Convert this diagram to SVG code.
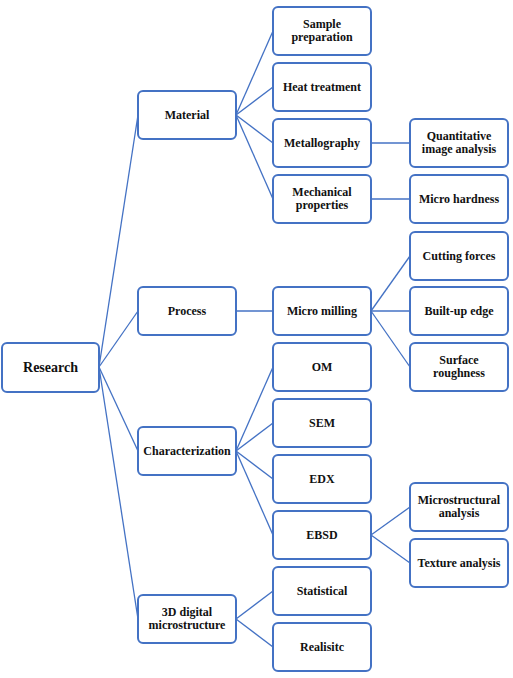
<svg xmlns="http://www.w3.org/2000/svg" width="513" height="678" viewBox="0 0 513 678">
<style>
rect{fill:#fff;stroke:#4472C4;stroke-width:2}
.c line{stroke:#4472C4;stroke-width:1.3}
text{font-family:'Liberation Serif','Times New Roman',Times,serif;font-weight:bold;font-size:12px;fill:#111;text-anchor:middle}
</style>
<rect x="0" y="0" width="513" height="678" style="stroke:none"/>
<g class="c">
<line x1="99" y1="367" x2="138" y2="115"/>
<line x1="99" y1="367" x2="138" y2="311"/>
<line x1="99" y1="367" x2="138" y2="451"/>
<line x1="99" y1="367" x2="138" y2="619"/>
<line x1="236" y1="115" x2="273" y2="31"/>
<line x1="236" y1="115" x2="273" y2="87"/>
<line x1="236" y1="115" x2="273" y2="143"/>
<line x1="236" y1="115" x2="273" y2="199"/>
<line x1="371" y1="143" x2="410" y2="143"/>
<line x1="371" y1="199" x2="410" y2="199"/>
<line x1="236" y1="311" x2="273" y2="311"/>
<line x1="371" y1="311" x2="410" y2="256"/>
<line x1="371" y1="311" x2="410" y2="311"/>
<line x1="371" y1="311" x2="410" y2="367"/>
<line x1="236" y1="451" x2="273" y2="367"/>
<line x1="236" y1="451" x2="273" y2="423"/>
<line x1="236" y1="451" x2="273" y2="479"/>
<line x1="236" y1="451" x2="273" y2="535"/>
<line x1="371" y1="535" x2="410" y2="507"/>
<line x1="371" y1="535" x2="410" y2="563"/>
<line x1="236" y1="619" x2="273" y2="591"/>
<line x1="236" y1="619" x2="273" y2="647"/>
</g>
<g id="research"><rect x="2" y="343" width="97" height="49" rx="5"/><text x="50.5" y="372" style="font-size:14px">Research</text></g>
<g id="material"><rect x="138" y="91" width="98" height="48" rx="5"/><text x="187" y="119">Material</text></g>
<g id="process"><rect x="138" y="287" width="98" height="48" rx="5"/><text x="187" y="315">Process</text></g>
<g id="characterization"><rect x="138" y="427" width="98" height="48" rx="5"/><text x="187" y="455">Characterization</text></g>
<g id="digital"><rect x="138" y="595" width="98" height="48" rx="5"/><text x="187" y="616">3D digital</text><text x="187" y="629">microstructure</text></g>
<g id="sample"><rect x="273" y="7" width="98" height="48" rx="5"/><text x="322" y="28">Sample</text><text x="322" y="41">preparation</text></g>
<g id="heat"><rect x="273" y="63" width="98" height="48" rx="5"/><text x="322" y="91">Heat treatment</text></g>
<g id="metallography"><rect x="273" y="119" width="98" height="48" rx="5"/><text x="322" y="147">Metallography</text></g>
<g id="mechanical"><rect x="273" y="175" width="98" height="48" rx="5"/><text x="322" y="196">Mechanical</text><text x="322" y="209">properties</text></g>
<g id="quantitative"><rect x="410" y="119" width="98" height="48" rx="5"/><text x="459" y="140">Quantitative</text><text x="459" y="153">image analysis</text></g>
<g id="hardness"><rect x="410" y="175" width="98" height="48" rx="5"/><text x="459" y="203">Micro hardness</text></g>
<g id="milling"><rect x="273" y="287" width="98" height="48" rx="5"/><text x="322" y="315">Micro milling</text></g>
<g id="cutting"><rect x="410" y="232" width="98" height="48" rx="5"/><text x="459" y="260">Cutting forces</text></g>
<g id="builtup"><rect x="410" y="287" width="98" height="48" rx="5"/><text x="459" y="315">Built-up edge</text></g>
<g id="surface"><rect x="410" y="343" width="98" height="48" rx="5"/><text x="459" y="364">Surface</text><text x="459" y="377">roughness</text></g>
<g id="om"><rect x="273" y="343" width="98" height="48" rx="5"/><text x="322" y="371">OM</text></g>
<g id="sem"><rect x="273" y="399" width="98" height="48" rx="5"/><text x="322" y="427">SEM</text></g>
<g id="edx"><rect x="273" y="455" width="98" height="48" rx="5"/><text x="322" y="483">EDX</text></g>
<g id="ebsd"><rect x="273" y="511" width="98" height="48" rx="5"/><text x="322" y="539">EBSD</text></g>
<g id="microstructural"><rect x="410" y="483" width="98" height="48" rx="5"/><text x="459" y="504">Microstructural</text><text x="459" y="517">analysis</text></g>
<g id="texture"><rect x="410" y="539" width="98" height="48" rx="5"/><text x="459" y="567">Texture analysis</text></g>
<g id="statistical"><rect x="273" y="567" width="98" height="48" rx="5"/><text x="322" y="595">Statistical</text></g>
<g id="realistic"><rect x="273" y="623" width="98" height="48" rx="5"/><text x="322" y="651">Realisitc</text></g>
</svg>
